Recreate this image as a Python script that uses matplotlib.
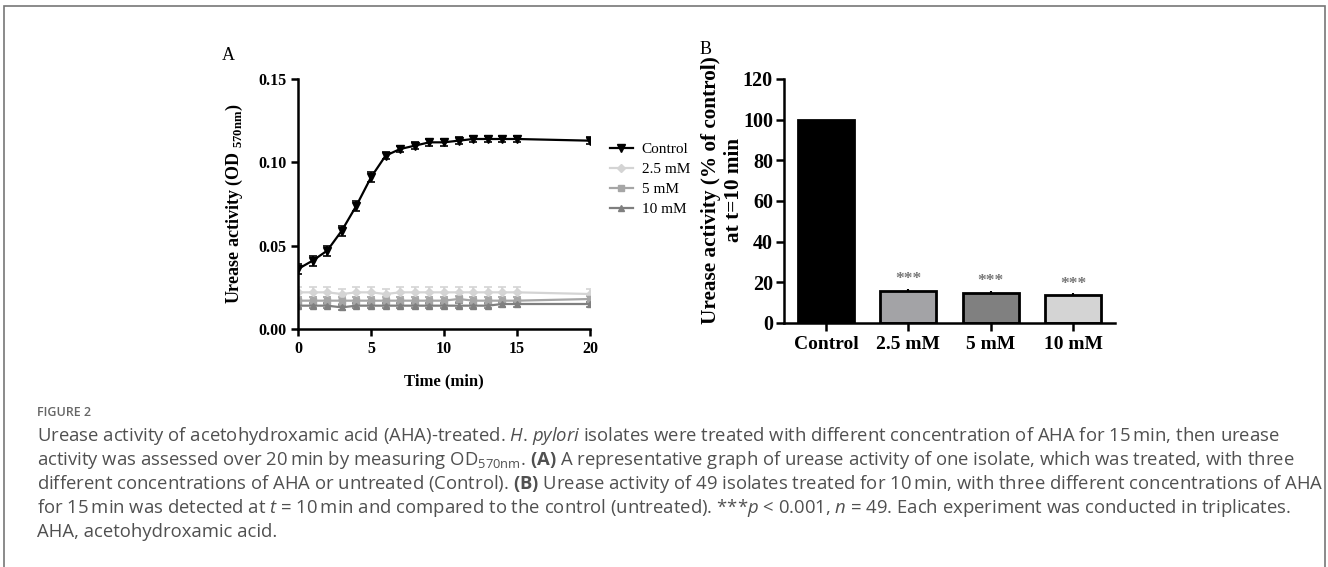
import numpy as np
import matplotlib.pyplot as plt
from matplotlib.patches import Rectangle
from matplotlib.lines import Line2D

# Panel A: urease activity over time (OD 570nm)
time_ctrl = [0, 1, 2, 3, 4, 5, 6, 7, 8, 9, 10, 11, 12, 13, 14, 15, 20]
od_control = [0.036, 0.041, 0.047, 0.059, 0.074, 0.091, 0.104, 0.108, 0.110, 0.112,
              0.112, 0.113, 0.114, 0.114, 0.114, 0.114, 0.113]
err_control = [0.003, 0.003, 0.003, 0.003, 0.003, 0.003, 0.002, 0.002, 0.002, 0.002,
               0.002, 0.002, 0.002, 0.002, 0.002, 0.002, 0.002]
od_25 = [0.022, 0.022, 0.022, 0.021, 0.022, 0.022, 0.021, 0.022, 0.022, 0.022,
         0.022, 0.022, 0.022, 0.022, 0.022, 0.022, 0.021]
err_25 = [0.003] * 17
od_5 = [0.017, 0.017, 0.017, 0.017, 0.017, 0.017, 0.017, 0.017, 0.017, 0.017,
        0.017, 0.018, 0.017, 0.017, 0.017, 0.017, 0.018]
err_5 = [0.002] * 17
od_10 = [0.014, 0.014, 0.014, 0.013, 0.014, 0.014, 0.014, 0.014, 0.014, 0.014,
         0.014, 0.014, 0.014, 0.014, 0.015, 0.015, 0.015]
err_10 = [0.0015] * 17
series_labels = ['Control', '2.5 mM', '5 mM', '10 mM']

# Panel B: activity at t=10 min, % of control
groups = ['Control', '2.5 mM', '5 mM', '10 mM']
pct = [100, 15.9, 14.9, 13.9]
pct_err = [0, 0.8, 0.8, 0.7]
stars = ['', '***', '***', '***']

caption = [
    "Urease activity of acetohydroxamic acid (AHA)-treated. $\\it{H}$. $\\it{pylori}$ isolates were treated with different concentration of AHA for 15\u2009min, then urease",
    "activity was assessed over 20\u2009min by measuring OD$_{\\mathregular{570nm}}$. $\\bf{(A)}$ A representative graph of urease activity of one isolate, which was treated, with three",
    "different concentrations of AHA or untreated (Control). $\\bf{(B)}$ Urease activity of 49 isolates treated for 10\u2009min, with three different concentrations of AHA",
    "for 15\u2009min was detected at $\\it{t}$ = 10\u2009min and compared to the control (untreated). ***$\\it{p}$ < 0.001, $\\it{n}$ = 49. Each experiment was conducted in triplicates.",
    "AHA, acetohydroxamic acid.",
]

serif = 'Liberation Serif'
plt.rcParams['mathtext.fontset'] = 'custom'
plt.rcParams['mathtext.rm'] = 'Open Sans'
plt.rcParams['mathtext.it'] = 'Open Sans:italic'
plt.rcParams['mathtext.bf'] = 'Open Sans:bold'

fig = plt.figure(figsize=(13.28, 5.67), dpi=100)

# frame around the figure
fig.patches.append(Rectangle((4 / 1328, -0.05), 1321 / 1328, 1 - 6 / 567 + 0.05,
                             transform=fig.transFigure, fill=False,
                             edgecolor='#777777', linewidth=1.2))

# ---------- Panel A ----------
axA = fig.add_axes([298 / 1328, 1 - 329 / 567, 292 / 1328, 250 / 567])
styles = [
    (od_control, err_control, 'black', 'v', 6),
    (od_25, err_25, '#d4d4d4', 'D', 4),
    (od_5, err_5, '#a6a6a6', 's', 5),
    (od_10, err_10, '#7f7f7f', '^', 5),
]
handles = []
for (vals, errs, col, mk, ms), lab in zip(styles, series_labels):
    axA.errorbar(time_ctrl, vals, yerr=errs, color=col, marker=mk, markersize=ms,
                 linewidth=1.6, elinewidth=1.2, capsize=3, capthick=1.2)
    handles.append(Line2D([], [], color=col, marker=mk, markersize=ms, linewidth=1.6, label=lab))
axA.set_xlim(0, 20)
axA.set_ylim(0, 0.15)
axA.set_xticks([0, 5, 10, 15, 20])
axA.set_yticks([0.0, 0.05, 0.10, 0.15])
axA.set_yticklabels(['0.00', '0.05', '0.10', '0.15'])
for s in ['top', 'right']:
    axA.spines[s].set_visible(False)
for s in ['left', 'bottom']:
    axA.spines[s].set_linewidth(1.8)
axA.tick_params(width=1.8, length=5)
for t in axA.get_xticklabels() + axA.get_yticklabels():
    t.set_fontfamily(serif)
    t.set_fontweight('bold')
    t.set_fontsize(11.5)
axA.set_xlabel('Time (min)', fontfamily=serif, fontweight='bold', fontsize=12, labelpad=12)
axA.set_ylabel('Urease activity (OD $_{\\mathregular{570nm}}$)', fontfamily=serif, fontweight='bold',
               fontsize=13, labelpad=9)
axA.legend(handles=handles, loc='upper left', bbox_to_anchor=(1.02, 0.8), frameon=False,
           prop={'family': serif, 'size': 11}, handlelength=1.5,
           labelspacing=0.4, handletextpad=0.6)
fig.text(222 / 1328, 1 - 56 / 567, 'A', fontfamily=serif, fontsize=13, va='center')

# ---------- Panel B ----------
axB = fig.add_axes([784 / 1328, 1 - 323 / 567, 331 / 1328, 244 / 567])
bar_colors = ['black', '#a3a3a6', '#808080', '#d4d4d4']
xpos = np.arange(len(groups))
axB.bar(xpos, pct, width=0.68, color=bar_colors, edgecolor='black', linewidth=2,
        yerr=pct_err, error_kw=dict(ecolor='black', elinewidth=1.5, capsize=0))
for x, v, e, s in zip(xpos, pct, pct_err, stars):
    if s:
        axB.text(x, v + e + 0.8, s, ha='center', va='bottom', color='#777777',
                 fontfamily=serif, fontweight='bold', fontsize=12.5)
axB.set_xlim(-0.51, 3.51)
axB.set_ylim(0, 120)
axB.set_yticks([0, 20, 40, 60, 80, 100, 120])
axB.set_xticks(xpos)
axB.set_xticklabels(groups)
for s in ['top', 'right']:
    axB.spines[s].set_visible(False)
for s in ['left', 'bottom']:
    axB.spines[s].set_linewidth(1.8)
axB.tick_params(width=1.8, length=6)
axB.tick_params(axis='y', pad=2)
for t in axB.get_xticklabels():
    t.set_fontfamily(serif)
    t.set_fontweight('bold')
    t.set_fontsize(14)
for t in axB.get_yticklabels():
    t.set_fontfamily(serif)
    t.set_fontweight('bold')
    t.set_fontsize(14.5)
axB.set_ylabel('Urease activity (% of control)\nat t=10 min', fontfamily=serif,
               fontweight='bold', fontsize=15.3, linespacing=1.2)
axB.yaxis.set_label_coords(-0.12, 0.545)
fig.text(700 / 1328, 1 - 50 / 567, 'B', fontfamily=serif, fontsize=13, va='center')

# ---------- Caption ----------
fig.text(37 / 1328, 1 - 413 / 567, 'FIGURE 2', fontfamily='Open Sans', fontweight='semibold',
         fontsize=9, color='#666666', va='center')
for i, line in enumerate(caption):
    fig.text(37 / 1328, 1 - (436 + i * 24) / 567, line, fontfamily='Open Sans',
             fontsize=13.3, color='#505050', va='center')

fig.savefig('out.png', dpi=100)
